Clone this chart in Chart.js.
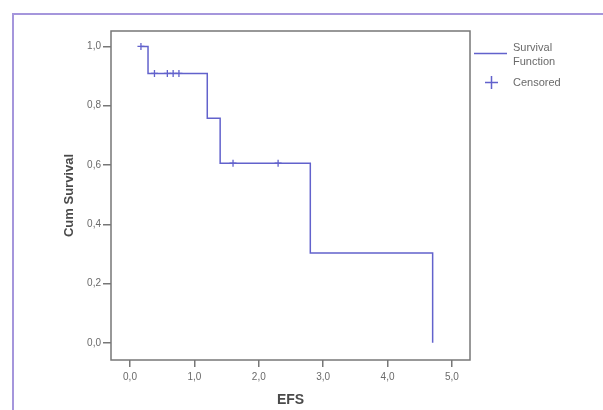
<!DOCTYPE html>
<html>
<head>
<meta charset="utf-8">
<script src="https://cdn.jsdelivr.net/npm/chart.js@4"></script>
<style>
  html, body { margin: 0; padding: 0; background: #fff; }
  #wrap { position: relative; width: 603px; height: 410px; }
  #frame {
    position: absolute; left: 12px; top: 13px; right: -5px; bottom: -5px;
    border-top: 2px solid #a596dc; border-left: 2px solid #a596dc;
  }
  canvas { position: absolute; left: 0; top: 0; }
</style>
</head>
<body>
<div id="wrap">
  <div id="frame"></div>
  <canvas id="km" width="603" height="410"></canvas>
</div>
<script>
// ===== KAPLAN-MEIER (EFS) =====
const eventTimes = [0.17, 0.28, 1.2, 1.4, 2.8, 4.7];
const survival = [1.0, 0.909, 0.758, 0.606, 0.303, 0.0];
const censorTimes = [0.17, 0.38, 0.58, 0.67, 0.76, 1.6, 2.3];
const censorSurvival = [1.0, 0.909, 0.909, 0.909, 0.909, 0.606, 0.606];
const xTicks = [0, 1, 2, 3, 4, 5];
const yTicks = [0, 0.2, 0.4, 0.6, 0.8, 1.0];

const lineColor = "#6262cc";
const axisColor = "#777";
const textColor = "#6a6a6a";
const font = "'Liberation Sans', Arial, sans-serif";

const fmt = v => v.toFixed(1).replace('.', ',');

// box around the plot + legend on the right
const framePlugin = {
    id: 'frameAndLegend',
    afterDraw(chart) {
        const { ctx, chartArea: a } = chart;
        ctx.save();
        ctx.strokeStyle = axisColor;
        ctx.lineWidth = 1.5;
        ctx.strokeRect(a.left, a.top, a.right - a.left, a.bottom - a.top);

        // legend
        ctx.strokeStyle = lineColor;
        ctx.lineWidth = 1.5;
        ctx.beginPath();
        ctx.moveTo(474, 53.5);
        ctx.lineTo(507, 53.5);
        ctx.moveTo(485, 82.5);
        ctx.lineTo(498, 82.5);
        ctx.moveTo(491.5, 76);
        ctx.lineTo(491.5, 89);
        ctx.stroke();

        ctx.fillStyle = textColor;
        ctx.font = "11px " + font;
        ctx.textAlign = "left";
        ctx.textBaseline = "middle";
        ctx.fillText("Survival", 513, 47.5);
        ctx.fillText("Function", 513, 62);
        ctx.fillText("Censored", 513, 83);
        ctx.restore();
    }
};

new Chart(document.getElementById('km'), {
    type: 'scatter',
    data: {
        datasets: [
            {
                label: 'Survival Function',
                data: eventTimes.map((t, i) => ({ x: t, y: survival[i] })),
                showLine: true,
                stepped: true,
                borderColor: lineColor,
                borderWidth: 1.5,
                pointRadius: 0
            },
            {
                label: 'Censored',
                data: censorTimes.map((t, i) => ({ x: t, y: censorSurvival[i] })),
                showLine: false,
                pointStyle: 'cross',
                pointRadius: 3.5,
                borderColor: lineColor,
                borderWidth: 1.3
            }
        ]
    },
    options: {
        responsive: false,
        animation: false,
        layout: { padding: { left: 0, top: 31, right: 133, bottom: 0 } },
        plugins: {
            legend: { display: false },
            tooltip: { enabled: false }
        },
        scales: {
            x: {
                type: 'linear',
                min: -0.295,
                max: 5.28,
                afterFit: s => { s.height = 50; },
                afterBuildTicks: s => { s.ticks = xTicks.map(v => ({ value: v })); },
                border: { display: false },
                grid: { drawOnChartArea: false, drawTicks: true, tickLength: 7, color: axisColor, lineWidth: 1.5 },
                ticks: {
                    padding: 4,
                    color: textColor,
                    font: { family: font, size: 10 },
                    callback: v => fmt(v)
                },
                title: {
                    display: true,
                    text: 'EFS',
                    color: '#4a4a4a',
                    font: { family: font, size: 14, weight: 'bold' },
                    padding: { top: 0, bottom: 1 }
                }
            },
            y: {
                type: 'linear',
                min: -0.058,
                max: 1.052,
                afterFit: s => { s.width = 111; },
                afterBuildTicks: s => { s.ticks = yTicks.map(v => ({ value: v })); },
                border: { display: false },
                grid: { drawOnChartArea: false, drawTicks: true, tickLength: 8, color: axisColor, lineWidth: 1.5 },
                ticks: {
                    padding: 2,
                    color: textColor,
                    font: { family: font, size: 10 },
                    callback: v => fmt(v)
                },
                title: {
                    display: true,
                    text: 'Cum Survival',
                    color: '#4a4a4a',
                    font: { family: font, size: 13, weight: 'bold' },
                    padding: { top: 62, bottom: 0 }
                }
            }
        }
    },
    plugins: [framePlugin]
});
</script>
</body>
</html>
